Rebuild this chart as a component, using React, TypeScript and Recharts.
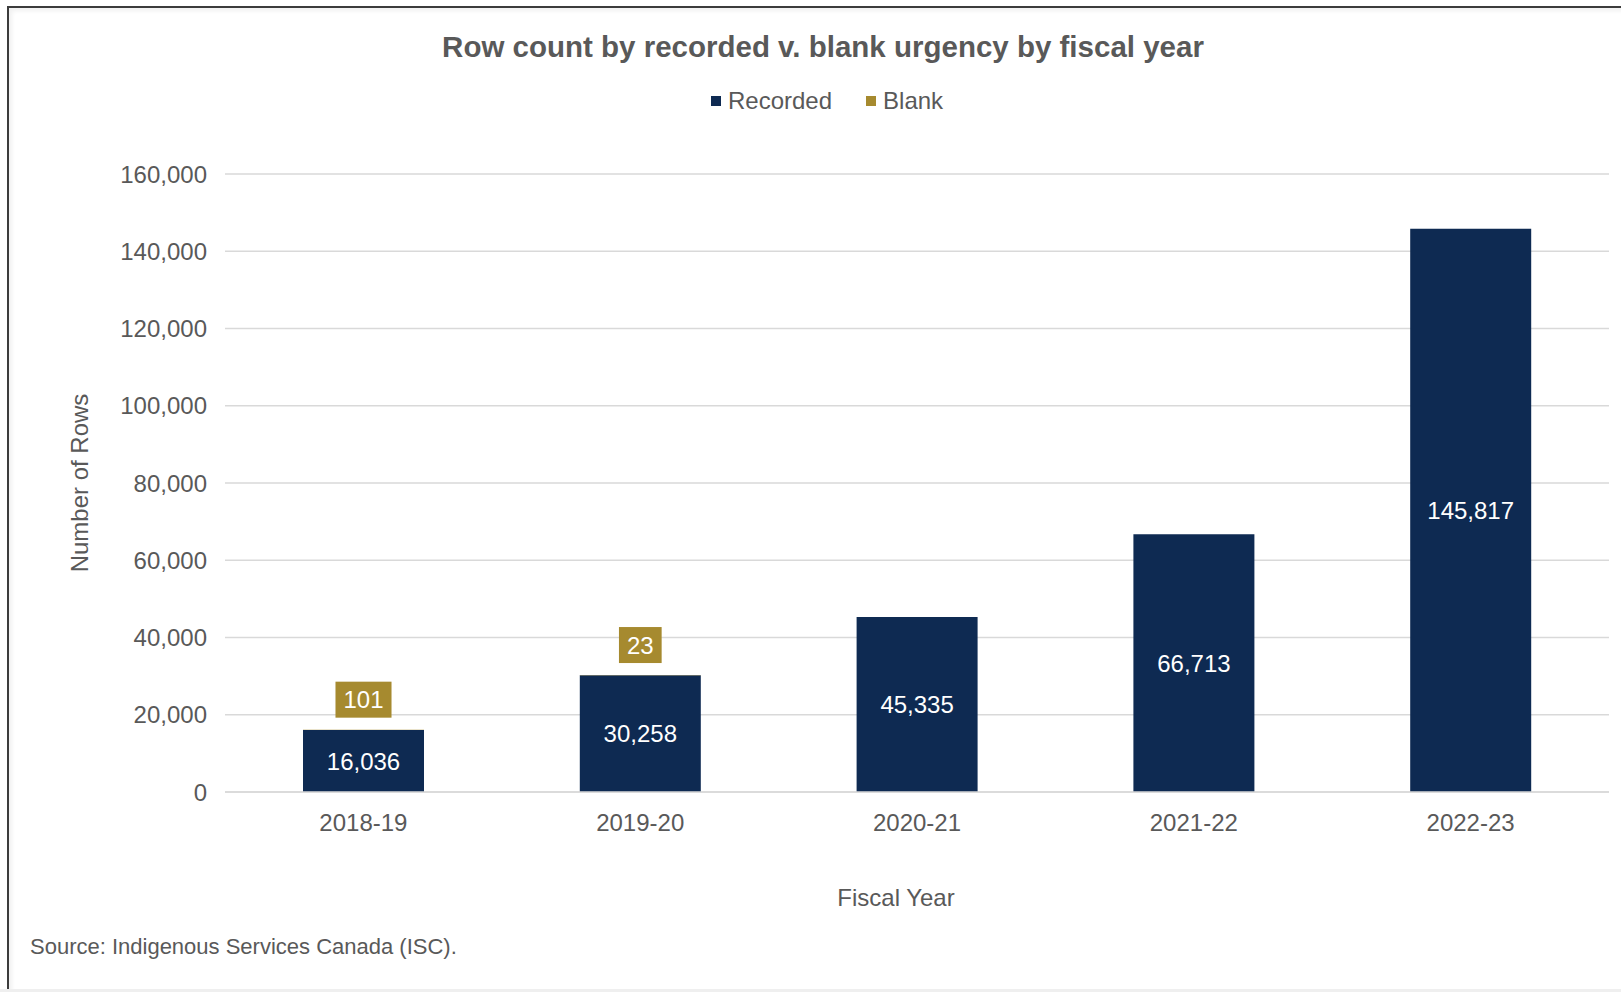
import React from 'react';
import { BarChart, Bar, XAxis, YAxis, CartesianGrid, LabelList, Legend } from 'recharts';

const categories = ['2018-19', '2019-20', '2020-21', '2021-22', '2022-23'];
const recorded = [16036, 30258, 45335, 66713, 145817];
const blank: (number | null)[] = [101, 23, null, null, null];
const yTicks = [0, 20000, 40000, 60000, 80000, 100000, 120000, 140000, 160000];

const NAVY = '#0e2a52';
const GOLD = '#a68a2f';
const GRAY = '#595959';
const FONT = '"Liberation Sans", Arial, Helvetica, sans-serif';

const data = categories.map((c, i) => ({ year: c, recorded: recorded[i], blank: blank[i] }));

const fmt = (v: any) => (typeof v === 'number' ? v.toLocaleString('en-US') : v);

const BlankLabel = (props: any) => {
  const { x, y, width, value } = props;
  if (value === null || value === undefined) return null;
  const txt = String(value);
  const w = txt.length * 0.556 * 24 + 16;
  const h = 36;
  const cx = Number(x) + Number(width) / 2;
  const bottom = Number(y) - 12;
  return (
    <g>
      <rect x={cx - w / 2} y={bottom - h} width={w} height={h} fill={GOLD} />
      <text x={cx} y={bottom - h / 2} fill="#ffffff" fontSize={24} fontFamily={FONT} textAnchor="middle" dominantBaseline="central">
        {txt}
      </text>
    </g>
  );
};

const LegendContent = () => (
  <div style={{ height: 30, position: 'relative', fontFamily: FONT, fontSize: 24, color: GRAY }}>
    <div style={{ position: 'absolute', left: 711, top: 0, display: 'flex', alignItems: 'center', height: 30, whiteSpace: 'nowrap' }}>
      <span style={{ display: 'inline-block', width: 10, height: 10, background: NAVY, marginRight: 7 }} />
      <span>Recorded</span>
      <span style={{ display: 'inline-block', width: 10, height: 10, background: GOLD, marginLeft: 34, marginRight: 7 }} />
      <span>Blank</span>
    </div>
  </div>
);

const YLabel = (props: any) => {
  const vb = props.viewBox || {};
  const cx = (vb.x || 0) + 79;
  const cy = (vb.y || 0) + (vb.height || 0) / 2;
  return (
    <text x={cx} y={cy} transform={`rotate(-90 ${cx} ${cy})`} textAnchor="middle" dominantBaseline="central" fill={GRAY} fontSize={24} fontFamily={FONT}>
      Number of Rows
    </text>
  );
};

const XLabel = (props: any) => {
  const vb = props.viewBox || {};
  const cx = (vb.x || 0) + (vb.width || 0) / 2 - 21;
  const cy = (vb.y || 0) + 105;
  return (
    <text x={cx} y={cy} textAnchor="middle" dominantBaseline="central" fill={GRAY} fontSize={24} fontFamily={FONT}>
      Fiscal Year
    </text>
  );
};

export default function App() {
  return (
    <div style={{ position: 'absolute', left: 0, top: 0, width: 1621, height: 992, background: '#ffffff', overflow: 'hidden', fontFamily: FONT }}>
      <div style={{ position: 'absolute', left: 7, top: 6, width: 1700, height: 1100, borderTop: '2px solid #3c3c3c', borderLeft: '2px solid #3c3c3c', boxShadow: 'inset 3px 3px 4px rgba(0,0,0,0.06)' }} />
      <div style={{ position: 'absolute', left: 0, top: 989, width: 1621, height: 3, background: '#efefef' }} />
      <div style={{ position: 'absolute', left: 0, top: 30, width: 1646, textAlign: 'center', fontSize: 29.5, fontWeight: 'bold', color: GRAY, whiteSpace: 'nowrap', lineHeight: '34px' }}>
        Row count by recorded v. blank urgency by fiscal year
      </div>
      <div style={{ position: 'absolute', left: 30, top: 933, fontSize: 22, color: GRAY, whiteSpace: 'nowrap', lineHeight: '28px' }}>
        Source: Indigenous Services Canada (ISC).
      </div>
      <div style={{ position: 'absolute', left: 0, top: 0 }}>
        <BarChart width={1621} height={992} data={data} margin={{ top: 144, right: 12, bottom: 170, left: 0 }}>
          <CartesianGrid vertical={false} stroke="#d9d9d9" strokeWidth={1.5} />
          <Legend verticalAlign="top" align="left" content={<LegendContent />} wrapperStyle={{ top: 86, left: 0, width: 1621 }} />
          <XAxis
            dataKey="year"
            height={30}
            axisLine={{ stroke: '#d9d9d9', strokeWidth: 1.5 }}
            tickLine={false}
            tickSize={0}
            tickMargin={22}
            tick={{ fill: GRAY, fontSize: 24, fontFamily: FONT }}
            label={{ content: <XLabel /> }}
          />
          <YAxis
            width={225}
            domain={[0, 160000]}
            ticks={yTicks}
            axisLine={false}
            tickLine={false}
            tickSize={0}
            tickMargin={18}
            tickFormatter={fmt}
            tick={{ fill: GRAY, fontSize: 24, fontFamily: FONT }}
            label={{ content: <YLabel /> }}
          />
          <Bar dataKey="recorded" name="Recorded" stackId="a" fill={NAVY} barSize={121} isAnimationActive={false}>
            <LabelList dataKey="recorded" position="center" fill="#ffffff" fontSize={24} fontFamily={FONT} formatter={fmt} />
          </Bar>
          <Bar dataKey="blank" name="Blank" stackId="a" fill={GOLD} barSize={121} isAnimationActive={false}>
            <LabelList dataKey="blank" content={<BlankLabel />} />
          </Bar>
        </BarChart>
      </div>
    </div>
  );
}
